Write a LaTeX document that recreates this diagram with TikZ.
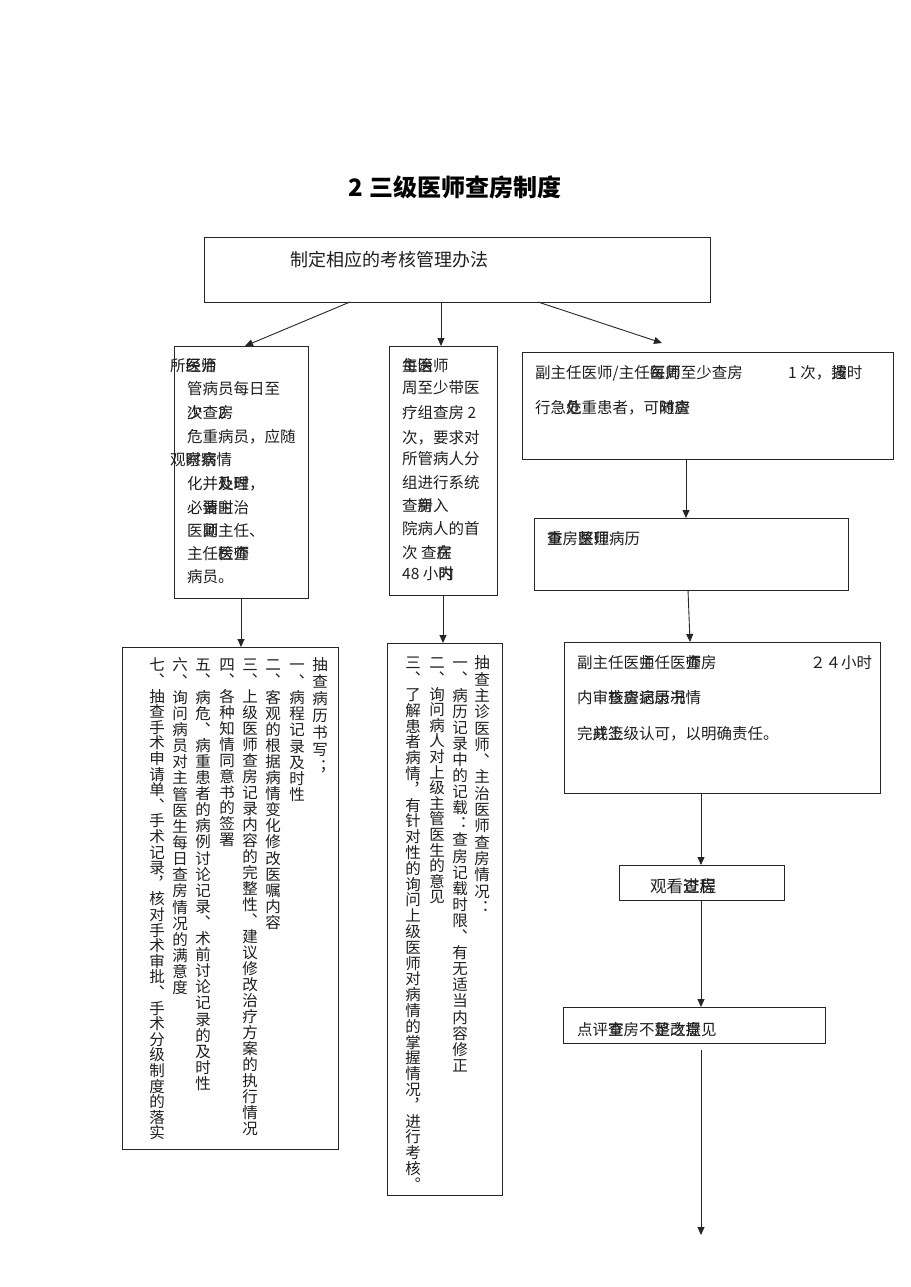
\documentclass[tikz,border=0pt]{standalone}
\usepackage{fontspec}
\setmainfont{Noto Sans CJK SC}
\usetikzlibrary{arrows.meta}
\newcommand\olp[2]{\rlap{#1}#2}
\newcommand\vtcol[2]{\vbox{\baselineskip=#1pt\lineskiplimit=-100pt\lineskip=0pt\vtcolA#2\relax}}
\def\vtcolA#1{\ifx\relax#1\else\hbox to 1em{\hss\vrule height 0.88em depth 0.12em width 0pt\relax#1\hss}\expandafter\vtcolA\fi}
\tikzset{
  box/.style={draw=black!85, line width=0.9pt, inner sep=0pt, outer sep=0pt, anchor=north west},
  arr/.style={-{Triangle[length=8pt,width=7pt]}, draw=black!85, line width=0.9pt},
  txt/.style={inner sep=0pt, anchor=base west, font=\fontsize{15.5}{18}\selectfont, text=black!88},
  vtx/.style={inner sep=0pt, anchor=north, font=\fontsize{15.5}{18}\selectfont, text=black!88},
}
\begin{document}
\begin{tikzpicture}[x=1pt,y=-1pt]
\fill[white] (0,0) rectangle (910,1287);
\useasboundingbox (0,0) rectangle (910,1287);

% title
\node[inner sep=0pt, font=\fontsize{24}{28}\selectfont\bfseries] (title) at (455,187) {2 三级医师查房制度};

% boxes
\node[box, minimum width=506pt, minimum height=65pt] (top) at (204,237) {};
\node[box, minimum width=134pt, minimum height=252pt] (lbox) at (174,346) {};
\node[box, minimum width=108pt, minimum height=249pt] (mbox) at (389,346) {};
\node[box, minimum width=371pt, minimum height=107pt] (r1) at (522,352) {};
\node[box, minimum width=314pt, minimum height=72pt] (r2) at (534,518) {};
\node[box, minimum width=316pt, minimum height=151pt] (r3) at (564,642) {};
\node[box, minimum width=165pt, minimum height=35pt] (r4) at (619,865) {};
\node[box, minimum width=262pt, minimum height=36pt] (r5) at (563,1007) {};
\node[box, minimum width=216pt, minimum height=502pt] (lb2) at (122,647) {};
\node[box, minimum width=115pt, minimum height=552pt] (mb2) at (387,643) {};
\coordinate (endpt) at (701,1235);

% connectors
\draw[arr] ([xshift=146pt]top.south west) -- ([xshift=71pt]lbox.north west);
\draw[arr] ([xshift=237pt]top.south west) -- ([xshift=52pt]mbox.north west);
\draw[arr] ([xshift=334pt]top.south west) -- ([xshift=140pt,yshift=9pt]r1.north west);
\draw[arr] ([xshift=164pt]r1.south west) -- ([xshift=152pt]r2.north west);
\draw[arr] ([xshift=67pt]lbox.south west) -- ([xshift=119pt]lb2.north west);
\draw[arr] ([xshift=54pt]mbox.south west) -- ([xshift=56pt]mb2.north west);
\draw[arr] ([xshift=154pt]r2.south west) -- ([xshift=126pt]r3.north west);
\draw[arr] ([xshift=137pt]r3.south west) -- ([xshift=82pt]r4.north west);
\draw[arr] ([xshift=82pt]r4.south west) -- ([xshift=138pt]r5.north west);
\draw[arr] ([xshift=138pt,yshift=-7pt]r5.south west) -- (endpt);

% top text
\node[txt, font=\fontsize{18}{20}\selectfont] (t0) at (290,266) {制定相应的考核管理办法};

% left box text
\node[txt] (la1) at (170,371) {所\olp{经}{医}\olp{治}{师}};
\node[txt] (la2) at (187,394) {管病员每日至};
\node[txt] (la3) at (187,418) {\olp{少}{次}查\olp{2}{房}};
\node[txt] (la4) at (187,442) {危重病员，应随};
\node[txt] (la5) at (170,465) {观\olp{察}{时}\olp{病}{察}情};
\node[txt] (la6) at (187,489) {化并\olp{及}{处}\olp{时}{理}，};
\node[txt] (la7) at (187,513) {必\olp{要}{请}\olp{时}{主}治};
\node[txt] (la8) at (187,536) {医\olp{师}{副}主任、};
\node[txt] (la9) at (187,559) {主任\olp{医}{检}\olp{查}{师}};
\node[txt] (la10) at (187,582) {病员。};

% middle box text
\node[txt] (ma1) at (402,371) {\olp{主}{每}\olp{治}{医}师};
\node[txt] (ma2) at (402,393) {周至少带医};
\node[txt] (ma3) at (402,418) {疗组查房 2};
\node[txt] (ma4) at (402,443) {次，要求对};
\node[txt] (ma5) at (402,464) {所管病人分};
\node[txt] (ma6) at (402,488) {组进行系统};
\node[txt] (ma7) at (402,511) {查\olp{房}{新}入};
\node[txt] (ma8) at (402,534) {院病人的首};
\node[txt] (ma9) at (402,558) {次 查\olp{在}{房}};
\node[txt] (ma10) at (402,579) {48 小\olp{内}{时}};

% right texts
\node[txt] (ra1) at (535,378) {副主任医师/主任\olp{医}{每}\olp{师}{周}至少查房};
\node[txt] (ra2) at (788,378) {1 次，\olp{按}{遇}时};
\node[txt] (ra3) at (535,413) {行急\olp{危}{处}重患者，可\olp{随}{时}\olp{查}{房}};
\node[txt] (rb1) at (547,544) {\olp{查}{重}房\olp{整}{医}\olp{理}{师}病历};
\node[txt] (rc1) at (577,668) {副主任医\olp{师}{主}任医\olp{查}{师}房};
\node[txt] (rc2) at (810,668) {２４小时};
\node[txt] (rc3) at (577,703) {内审\olp{核}{查}\olp{查}{房}\olp{病}{记}\olp{历}{录}\olp{书}{况}情};
\node[txt] (rc4) at (577,739) {完\olp{成}{并}\olp{上}{签}级认可，以明确责任。};
\node[txt, font=\fontsize{16.5}{18}\selectfont] (rd1) at (650,892) {观看\olp{查}{过}\olp{房}{程}};
\node[txt] (re1) at (577,1035) {点评\olp{查}{室}房不\olp{足}{整}\olp{之}{改}\olp{提}{意}见};

% vertical columns, bottom left
\node[vtx] (v1) at (320,657) {\vtcol{17}{抽查病历书写︔}};
\node[vtx] (v2) at (297,657) {\vtcol{16.25}{一︑病程记录及时性}};
\node[vtx] (v3) at (273,657) {\vtcol{16.1}{二︑客观的根据病情变化修改医嘱内容}};
\node[vtx] (v4) at (250,657) {\vtcol{16}{三︑上级医师查房记录内容的完整性︑建议修改治疗方案的执行情况}};
\node[vtx] (v5) at (227,657) {\vtcol{15.9}{四︑各种知情同意书的签署}};
\node[vtx] (v6) at (203,657) {\vtcol{16.1}{五︑病危︑病重患者的病例讨论记录︑术前讨论记录的及时性}};
\node[vtx] (v7) at (180,657) {\vtcol{16.15}{六︑询问病员对主管医生每日查房情况的满意度}};
\node[vtx] (v8) at (157,657) {\vtcol{15.6}{七︑抽查手术申请单︑手术记录︐核对手术审批︑手术分级制度的落实}};

% vertical columns, bottom middle
\node[vtx] (w1) at (482,655) {\vtcol{16.3}{抽查主诊医师︑主治医师查房情况︓}};
\node[vtx] (w2) at (460,655) {\vtcol{16.1}{一︑病历记录中的记载︓查房记载时限︑有无适当内容修正}};
\node[vtx] (w3) at (437,655) {\vtcol{15.6}{二︑询问病人对上级主管医生的意见}};
\node[vtx] (w4) at (413,655) {\vtcol{15.8}{三︑了解患者病情︐有针对性的询问上级医师对病情的掌握情况︐进行考核︒}};
\end{tikzpicture}
\end{document}
